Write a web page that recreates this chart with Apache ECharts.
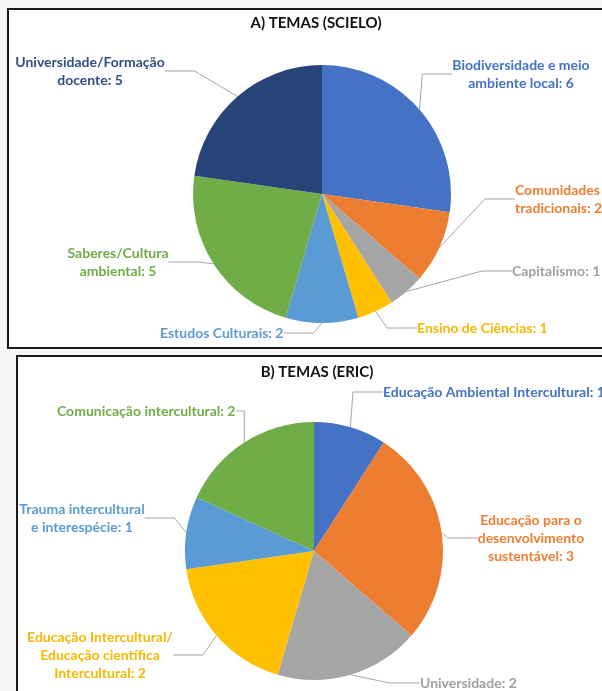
<!DOCTYPE html>
<html>
<head>
<meta charset="utf-8">
<script src="https://cdn.jsdelivr.net/npm/echarts@6/dist/echarts.min.js"></script>
<style>
  html, body { margin: 0; padding: 0; background: #f6f6f6; }
  #chart { width: 602px; height: 691px; }
</style>
</head>
<body>
<div id="chart"></div>
<script>
// dados do grafico A (SciELO)
var temasScielo = ['Biodiversidade e meio\nambiente local', 'Comunidades\ntradicionais', 'Capitalismo',
	'Ensino de Ciências', 'Estudos Culturais', 'Saberes/Cultura\nambiental', 'Universidade/Formação\ndocente'];
var valoresScielo = [6, 2, 1, 1, 2, 5, 5];

// dados do grafico B (ERIC)
var temasEric = ['Educação Ambiental Intercultural', 'Educação para o\ndesenvolvimento\nsustentável', 'Universidade',
	'Educação Intercultural/\nEducação científica\nIntercultural', 'Trauma intercultural\ne interespécie', 'Comunicação intercultural'];
var valoresEric = [1, 3, 2, 2, 1, 2];

var coresA = ['#4472c4', '#ed7d31', '#a5a5a5', '#ffc000', '#5b9bd5', '#70ad47', '#264478'];
var coresB = ['#4472c4', '#ed7d31', '#a5a5a5', '#ffc000', '#5b9bd5', '#70ad47'];
// cor do texto dos rotulos
var textoA = ['#4472c4', '#ed7d31', '#a0a0a0', '#f5b800', '#5b9bd5', '#70ad47', '#2f4f85'];
var textoB = ['#4472c4', '#ed7d31', '#a0a0a0', '#f5b800', '#5b9bd5', '#70ad47'];

// posicao dos rotulos [x, y, alinhamento]
var rotulosA = [[521, 74, 'center'], [515, 199, 'left'], [512, 271, 'left'], [417, 328, 'left'],
	[160, 333, 'left'], [118, 262, 'center'], [90, 71, 'center']];
var rotulosB = [[383, 392, 'left'], [531, 538, 'center'], [420, 683, 'left'], [100, 655, 'center'],
	[82, 518, 'center'], [57, 411, 'left']];

var fonte = 'Lato';

function montaDados(nomes, valores, cores, texto){
	return nomes.map(function(n, i){
		return {name: n, value: valores[i], itemStyle: {color: cores[i]}, label: {color: texto[i]}};
	});
}

function serie(dados, centro, rotulos){
	return {
		type: 'pie',
		radius: 129,
		center: centro,
		startAngle: 90,
		clockwise: true,
		animation: false,
		data: dados,
		itemStyle: {borderWidth: 0},
		label: {
			formatter: '{b}: {c}',
			fontFamily: fonte,
			fontWeight: 'bold',
			fontSize: 14,
			lineHeight: 18,
			overflow: 'none'
		},
		labelLine: {
			show: true,
			lineStyle: {color: '#a6a6a6', width: 1}
		},
		labelLayout: function(p){
			var r = rotulos[p.dataIndex];
			return {x: r[0], y: r[1], align: r[2], verticalAlign: 'middle'};
		}
	};
}

var chart = echarts.init(document.getElementById('chart'), null, {renderer: 'canvas'});
var option = {
	backgroundColor: '#f6f6f6',
	graphic: [
		{type: 'rect', shape: {x: 8, y: 9, width: 610, height: 339}, style: {fill: '#fff', stroke: '#1a1a1a', lineWidth: 2}, z: -10},
		{type: 'rect', shape: {x: 17, y: 356, width: 600, height: 350}, style: {fill: '#fff', stroke: '#1a1a1a', lineWidth: 2}, z: -10}
	],
	title: [
		{text: 'A) TEMAS (SCIELO)', left: 311, top: 11, textAlign: 'center',
			textStyle: {fontFamily: fonte, fontSize: 15, fontWeight: 'bold', color: '#111'}},
		{text: 'B) TEMAS (ERIC)', left: 312, top: 360, textAlign: 'center',
			textStyle: {fontFamily: fonte, fontSize: 15, fontWeight: 'bold', color: '#111'}}
	],
	series: [
		serie(montaDados(temasScielo, valoresScielo, coresA, textoA), [322, 194], rotulosA),
		serie(montaDados(temasEric, valoresEric, coresB, textoB), [314, 551], rotulosB)
	]
};
chart.setOption(option);
</script>
</body>
</html>
